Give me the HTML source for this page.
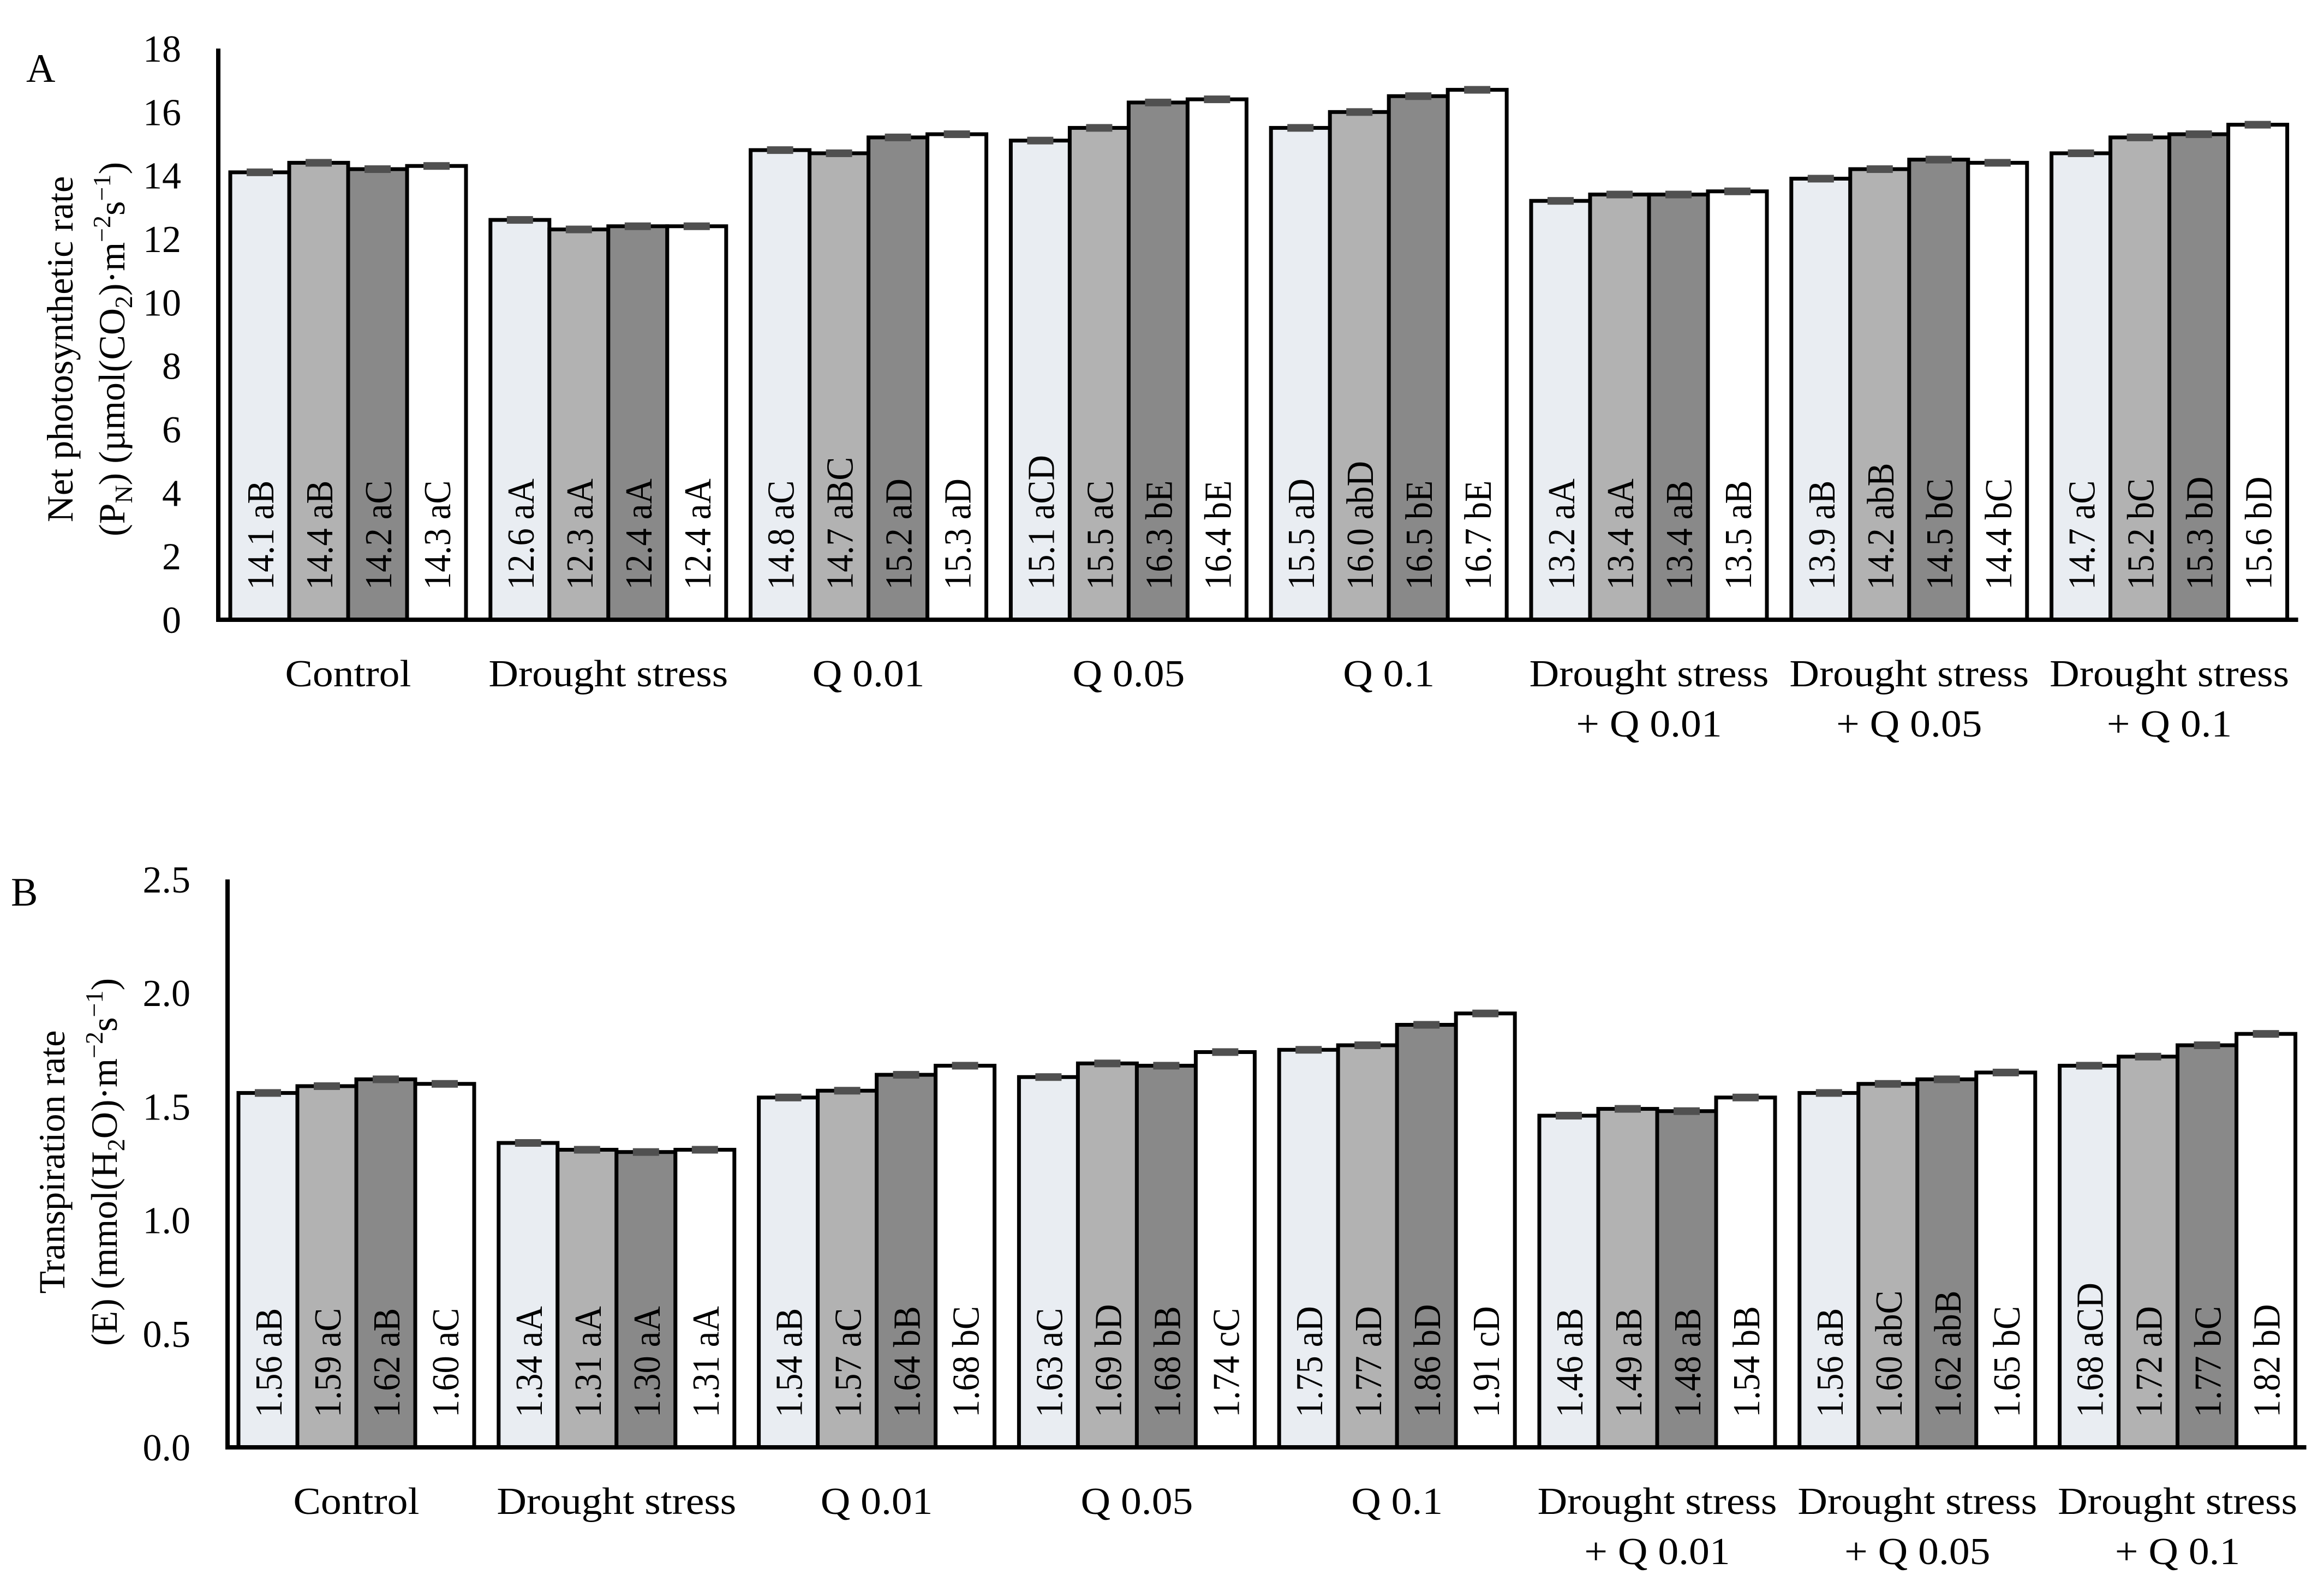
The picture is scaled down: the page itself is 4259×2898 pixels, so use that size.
<!DOCTYPE html>
<html><head><meta charset="utf-8"><style>
html,body{margin:0;padding:0;background:#fff}
svg{display:block}
text{font-family:"Liberation Serif",serif;fill:#000}
</style></head><body>
<svg id="fig" width="4259" height="2898" viewBox="0 0 4259 2898" xmlns="http://www.w3.org/2000/svg">
<rect width="4259" height="2898" fill="#fff"/>
<text x="48" y="150" font-size="74">A</text>
<text x="20" y="1660" font-size="74">B</text>
<g font-size="68">
<text transform="translate(133,640) rotate(-90)" text-anchor="middle">Net photosynthetic rate</text>
<text transform="translate(228,640) rotate(-90)" text-anchor="middle">(P<tspan font-size="46" dy="14">N</tspan><tspan dy="-14">) (µmol(CO</tspan><tspan font-size="46" dy="14">2</tspan><tspan dy="-14">)·m</tspan><tspan font-size="46" dy="-26">−2</tspan><tspan dy="26">s</tspan><tspan font-size="46" dy="-26">−1</tspan><tspan dy="26">)</tspan></text>
</g>
<g font-size="68">
<text transform="translate(118,2130) rotate(-90)" text-anchor="middle">Transpiration rate</text>
<text transform="translate(214,2130) rotate(-90)" text-anchor="middle">(E) (mmol(H<tspan font-size="46" dy="14">2</tspan><tspan dy="-14">O)·m</tspan><tspan font-size="46" dy="-26">−2</tspan><tspan dy="26">s</tspan><tspan font-size="46" dy="-26">−1</tspan><tspan dy="26">)</tspan></text>
</g>
</svg>
<script>
const categories = ["Control","Drought stress","Q 0.01","Q 0.05","Q 0.1","Drought stress|+ Q 0.01","Drought stress|+ Q 0.05","Drought stress|+ Q 0.1"];
const valuesA = [[14.1,14.4,14.2,14.3],[12.6,12.3,12.4,12.4],[14.8,14.7,15.2,15.3],[15.1,15.5,16.3,16.4],[15.5,16.0,16.5,16.7],[13.2,13.4,13.4,13.5],[13.9,14.2,14.5,14.4],[14.7,15.2,15.3,15.6]];
const lettersA = [["aB","aB","aC","aC"],["aA","aA","aA","aA"],["aC","aBC","aD","aD"],["aCD","aC","bE","bE"],["aD","abD","bE","bE"],["aA","aA","aB","aB"],["aB","abB","bC","bC"],["aC","bC","bD","bD"]];
const valuesB = [[1.56,1.59,1.62,1.60],[1.34,1.31,1.30,1.31],[1.54,1.57,1.64,1.68],[1.63,1.69,1.68,1.74],[1.75,1.77,1.86,1.91],[1.46,1.49,1.48,1.54],[1.56,1.60,1.62,1.65],[1.68,1.72,1.77,1.82]];
const lettersB = [["aB","aC","aB","aC"],["aA","aA","aA","aA"],["aB","aC","bB","bC"],["aC","bD","bB","cC"],["aD","aD","bD","cD"],["aB","aB","aB","bB"],["aB","abC","abB","bC"],["aCD","aD","bC","bD"]];
const ticksA = ["0","2","4","6","8","10","12","14","16","18"];
const ticksB = ["0.0","0.5","1.0","1.5","2.0","2.5"];
const fills = ["#e9edf2","#b2b2b2","#898989","#ffffff"];
const NS = "http://www.w3.org/2000/svg";
const svg = document.getElementById("fig");
function mk(tag, attrs, parent){const e=document.createElementNS(NS,tag);for(const k in attrs)e.setAttribute(k,attrs[k]);(parent||svg).appendChild(e);return e;}
function draw(id, vals, lets, ticks, tickStep, max, axisX, base, top, firstX, dec){
  const g = mk("g",{});
  
  
  const y = v => base - (v/max)*(base-top);
  const bw = 108, pitch = 476.8;
  ticks.forEach((t,i)=>{
    const tx = mk("text",{x:axisX-68,y:y(i*tickStep)+24,"font-size":70,"text-anchor":"end"},g);
    tx.textContent = t;
    
    
  });
  vals.forEach((grp,gi)=>{
    const gx = firstX + gi*pitch;
    grp.forEach((v,bi)=>{
      const x = gx + bi*bw;
      const r = mk("rect",{x:x,y:y(v),width:bw,height:base-y(v),fill:fills[bi],stroke:"#000","stroke-width":7},g);
      
      
      const t = mk("text",{"font-size":70,transform:"translate("+(x+bw/2+25)+","+(base-55)+") rotate(-90) scale(0.92,1)"},g);
      t.textContent = v.toFixed(dec)+" "+lets[gi][bi];
      
      
    });
    const cx = gx + 2*bw;
    const lines = categories[gi].split("|");
    lines.forEach((ln,li)=>{
      const c = mk("text",{x:cx,y:base+122+li*92,"font-size":70,"text-anchor":"middle",transform:"translate("+cx+",0) scale(1.08,1) translate("+(-cx)+",0)"},g);
      c.textContent = ln;
      
      
    });
  });
  vals.forEach((grp,gi)=>{
    grp.forEach((v,bi)=>{
      const x = firstX + gi*pitch + bi*bw;
      const e = mk("rect",{x:x+bw/2-24,y:y(v)-7,width:48,height:14,fill:"#505050"},g);
      
      
    });
  });
  const ax = mk("path",{d:"M"+axisX+" "+top+" V"+base+" H"+(firstX+7*pitch+4*bw+20),stroke:"#000","stroke-width":8,fill:"none"},g);
  
  
}
draw("a", valuesA, lettersA, ticksA, 2, 18, 400, 1136, 89, 422, 1);
draw("b", valuesB, lettersB, ticksB, 0.5, 2.5, 417, 2653, 1612, 437, 2);
</script>
</body></html>
